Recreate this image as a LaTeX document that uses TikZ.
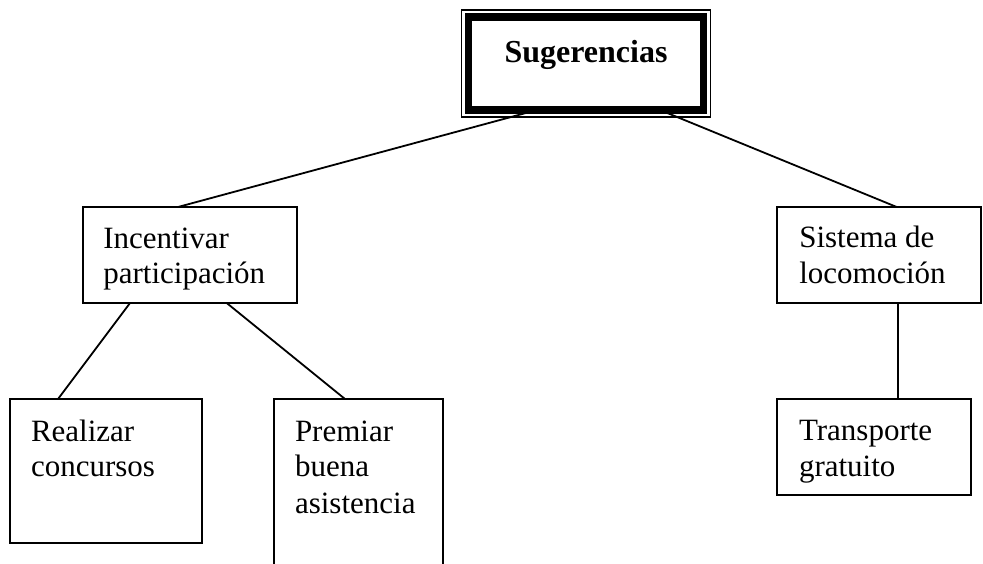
\documentclass[tikz,border=0pt]{standalone}
\usepackage{fontspec}
\setmainfont{Liberation Serif}
\usepackage{graphicx}
\usetikzlibrary{calc}
\newcommand{\stx}[1]{\scalebox{1.0}[1]{#1}}
\tikzset{
  box/.style={draw, line width=1.7pt, anchor=north west, inner sep=0pt, outer sep=0pt},
  txt/.style={anchor=base west, inner sep=0pt, outer sep=0pt, font=\fontsize{31}{34}\selectfont},
  conn/.style={line width=1.8pt},
}
\begin{document}
\begin{tikzpicture}[x=1pt,y=-1pt]
\useasboundingbox (0,0) rectangle (983,563);
\clip (0,0) rectangle (983,563);
% top box
\node[box, line width=7.5pt, minimum width=235pt, minimum height=93pt] (top) at (468.5,17) {};
\draw[line width=1.5pt] ([shift={(-6.8,-6.8)}]top.north west) rectangle ([shift={(6.8,6.8)}]top.south east);
\node[anchor=base, inner sep=0pt, font=\bfseries\fontsize{32}{35}\selectfont] (sug) at (586,62) {Sugerencias};
% level 2
\node[box, minimum width=214.3pt, minimum height=96pt] (inc) at (82.7,207) {};
\node[box, minimum width=203.7pt, minimum height=96pt] (sis) at (777.3,207) {};
% level 3
\node[box, minimum width=192pt, minimum height=144pt] (rea) at (10,399) {};
\node[box, minimum width=168.7pt, minimum height=175pt] (pre) at (274,399) {};
\node[box, minimum width=193.4pt, minimum height=95.7pt] (tra) at (777.3,399) {};
% texts
\node[txt] (t1a) at (103.3,248) {\stx{Incentivar}};
\node[txt] (t1b) at (103.3,283) {\stx{participación}};
\node[txt] (t2a) at (799.3,247) {\stx{Sistema de}};
\node[txt] (t2b) at (799.3,283) {\stx{locomoción}};
\node[txt] (t3a) at (31,441) {\stx{Realizar}};
\node[txt] (t3b) at (31,476.7) {\stx{concursos}};
\node[txt] (t4a) at (295,441) {\stx{Premiar}};
\node[txt] (t4b) at (295,476.7) {\stx{buena}};
\node[txt] (t4c) at (295,513) {\stx{asistencia}};
\node[txt] (t5a) at (799,440.7) {\stx{Transporte}};
\node[txt] (t5b) at (799,476.7) {\stx{gratuito}};
% connectors
\draw[conn] ([xshift=68.5pt]top.south west) -- ([xshift=95.3pt]inc.north west);
\draw[conn] ([xshift=191.5pt]top.south west) -- ([xshift=119.4pt]sis.north west);
\draw[conn] ([xshift=47.3pt]inc.south west) -- ([xshift=48pt]rea.north west);
\draw[conn] ([xshift=144pt]inc.south west) -- ([xshift=71pt]pre.north west);
\draw[conn] ([xshift=121pt]sis.south west) -- ([xshift=121pt]tra.north west);
\end{tikzpicture}
\end{document}
